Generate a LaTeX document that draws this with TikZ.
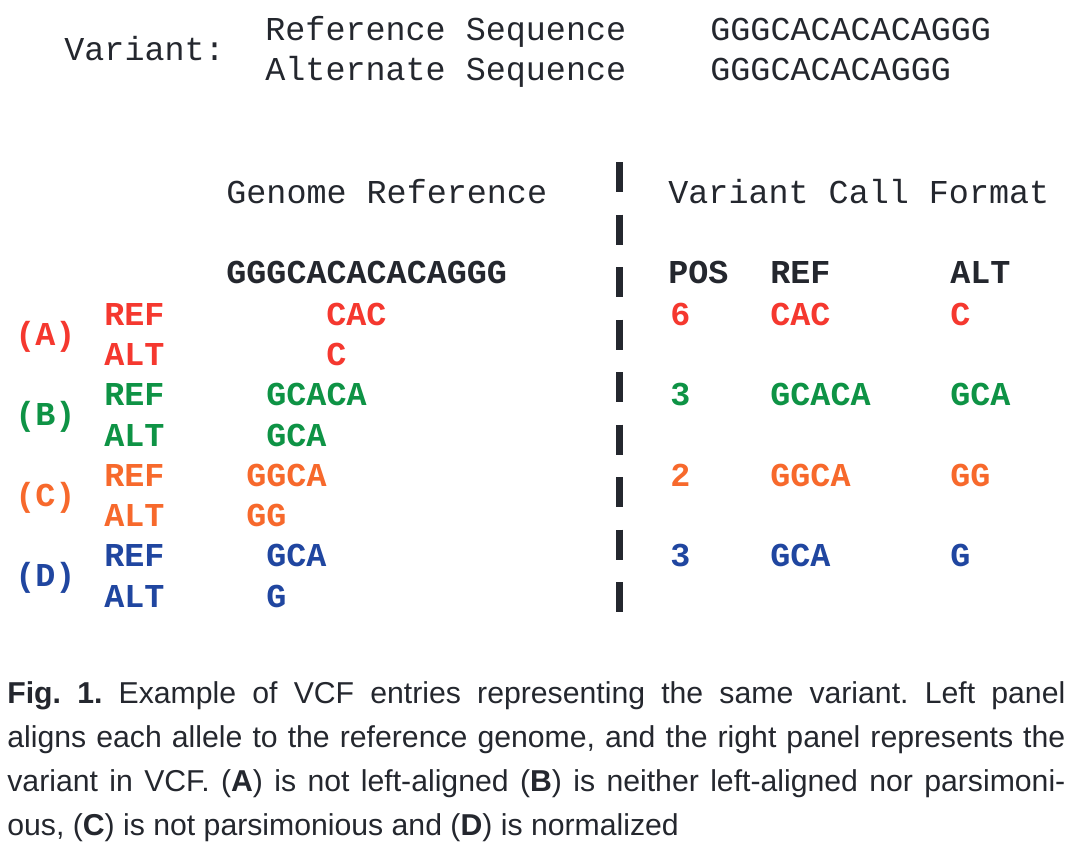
\documentclass[tikz,border=0pt]{standalone}
\usepackage{fontspec}
\setmonofont{Liberation Mono}
\newfontfamily\capfont{Liberation Sans}
\definecolor{ink}{HTML}{24272E}
\definecolor{cA}{HTML}{F5382F}
\definecolor{cB}{HTML}{0E9345}
\definecolor{cC}{HTML}{F7692C}
\definecolor{cD}{HTML}{2046A0}
\begin{document}
\begin{tikzpicture}[x=0.5pt,y=-0.5pt,
  mono/.style={anchor=base west,inner sep=0pt,text=ink,font=\ttfamily\fontsize{16.7}{20}\selectfont},
  head/.style={mono},
  row/.style={mono,font=\ttfamily\bfseries\fontsize{16.7}{20}\selectfont},
  sep/.style={draw=ink,line width=3.5pt,dash pattern=on 15pt off 11.25pt}]
\useasboundingbox (0,0) rectangle (1072,848);
\fill[white] (0,0) rectangle (1072,848);
% top
\node[head] (var) at (64,60) {Variant:};
\node[head] (refseq) at (265,40) {Reference Sequence};
\node[head] (altseq) at (265,80) {Alternate Sequence};
\node[head] (refstr) at (710,40) {GGGCACACACAGGG};
\node[head] (altstr) at (710,80) {GGGCACACAGGG};
% headers
\node[head] (gr) at (226,203) {Genome Reference};
\node[head] (vcf) at (668,203) {Variant Call Format};
\node[row] (genome) at (226,283) {GGGCACACACAGGG};
\node[row] (pos) at (668,283) {POS};
\node[row] (refh) at (770,283) {REF};
\node[row] (alth) at (950,283) {ALT};
% A
\node[row,text=cA] (la) at (15,345) {(A)};
\node[row,text=cA] (aref) at (104,325) {REF};
\node[row,text=cA] (aalt) at (104,365) {ALT};
\node[row,text=cA] (arefs) at (326,325) {CAC};
\node[row,text=cA] (aalts) at (326,365) {C};
\node[row,text=cA] (apos) at (670,325) {6};
\node[row,text=cA] (avr) at (770,325) {CAC};
\node[row,text=cA] (ava) at (950,325) {C};
% B
\node[row,text=cB] (lb) at (15,425) {(B)};
\node[row,text=cB] (bref) at (104,405) {REF};
\node[row,text=cB] (balt) at (104,446) {ALT};
\node[row,text=cB] (brefs) at (266,405) {GCACA};
\node[row,text=cB] (balts) at (266,446) {GCA};
\node[row,text=cB] (bpos) at (670,405) {3};
\node[row,text=cB] (bvr) at (770,405) {GCACA};
\node[row,text=cB] (bva) at (950,405) {GCA};
% C
\node[row,text=cC] (lc) at (15,506) {(C)};
\node[row,text=cC] (cref) at (104,486) {REF};
\node[row,text=cC] (calt) at (104,526) {ALT};
\node[row,text=cC] (crefs) at (246,486) {GGCA};
\node[row,text=cC] (calts) at (246,526) {GG};
\node[row,text=cC] (cpos) at (670,486) {2};
\node[row,text=cC] (cvr) at (770,486) {GGCA};
\node[row,text=cC] (cva) at (950,486) {GG};
% D
\node[row,text=cD] (ld) at (15,586) {(D)};
\node[row,text=cD] (dref) at (104,566) {REF};
\node[row,text=cD] (dalt) at (104,607) {ALT};
\node[row,text=cD] (drefs) at (266,566) {GCA};
\node[row,text=cD] (dalts) at (266,607) {G};
\node[row,text=cD] (dpos) at (670,566) {3};
\node[row,text=cD] (dvr) at (770,566) {GCA};
\node[row,text=cD] (dva) at (950,566) {G};
% separator
\coordinate (st) at (619.5,162);
\coordinate (sb) at (619.5,612);
\draw[sep] (st) -- (sb);
% caption
\node[anchor=base west,inner sep=0pt,text=ink] (cap) at (7,703) {\vtop{\hsize=529pt\parindent=0pt\capfont\fontsize{15.1}{22}\selectfont\frenchspacing
\textbf{Fig. 1.} Example of VCF entries representing the same variant. Left panel\linebreak
aligns each allele to the reference genome, and the right panel represents the\linebreak
variant in VCF. (\textbf{A}) is not left-aligned (\textbf{B}) is neither left-aligned nor parsimoni-\linebreak
ous, (\textbf{C}) is not parsimonious and (\textbf{D}) is normalized\par}};
\end{tikzpicture}
\end{document}
